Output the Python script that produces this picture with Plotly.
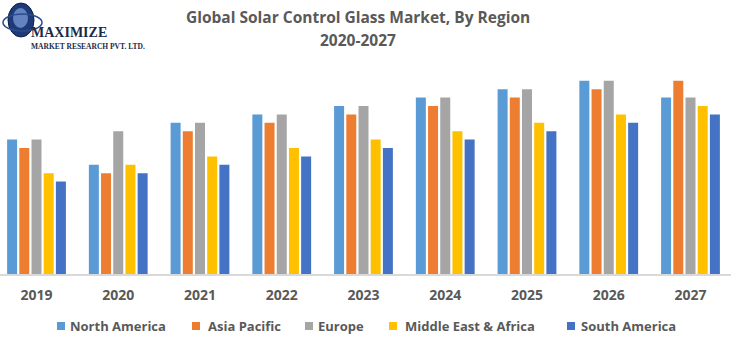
import plotly.graph_objects as go

years = ["2019", "2020", "2021", "2022", "2023", "2024", "2025", "2026", "2027"]
north_america = [1.6, 1.3, 1.8, 1.9, 2.0, 2.1, 2.2, 2.3, 2.1]
asia_pacific = [1.5, 1.2, 1.7, 1.8, 1.9, 2.0, 2.1, 2.2, 2.3]
europe = [1.6, 1.7, 1.8, 1.9, 2.0, 2.1, 2.2, 2.3, 2.1]
middle_east_africa = [1.2, 1.3, 1.4, 1.5, 1.6, 1.7, 1.8, 1.9, 2.0]
south_america = [1.1, 1.2, 1.3, 1.4, 1.5, 1.6, 1.7, 1.8, 1.9]

regions = ["North America", "Asia Pacific", "Europe", "Middle East & Africa", "South America"]
colors = ["#5B9BD5", "#ED7D31", "#A5A5A5", "#FFC000", "#4472C4"]
values = [north_america, asia_pacific, europe, middle_east_africa, south_america]

TEXT = "#595959"
FONT = "Open Sans"

# plot area geometry in pixels (used to place decorations in paper coords)
W, H = 738, 337
ML, MR, MT, MB = 0, 7, 70, 63
PW, PH = W - ML - MR, H - MT - MB


def px(x):
    return (x - ML) / PW


def py(y):
    return (H - MB - y) / PH


fig = go.Figure()
for name, vals, color in zip(regions, values, colors):
    fig.add_trace(go.Bar(x=years, y=vals, name=name, marker_color=color,
                         marker_line_width=0, showlegend=False))

fig.update_layout(
    width=W, height=H,
    margin=dict(l=ML, r=MR, t=MT, b=MB),
    paper_bgcolor="white", plot_bgcolor="white",
    barmode="group", bargap=0.254, bargroupgap=0.18,
    font=dict(family=FONT, color=TEXT),
    xaxis=dict(type="category", range=[-0.4465, 8.4955], showline=True,
               linecolor="#D9D9D9", linewidth=1.5, showgrid=False,
               ticks="outside", ticklen=7, tickcolor="rgba(0,0,0,0)",
               tickfont=dict(size=14, color=TEXT, family=FONT, weight="bold")),
    yaxis=dict(range=[0, 2.4286], visible=False, showgrid=False),
)

# Title (two lines)
fig.add_annotation(text="Global Solar Control Glass Market, By Region",
                   xref="paper", yref="paper", x=px(357.5), y=py(17), yanchor="middle",
                   showarrow=False, borderpad=0,
                   font=dict(size=15.5, color=TEXT, family=FONT, weight="bold"))
fig.add_annotation(text="2020-2027",
                   xref="paper", yref="paper", x=px(357.5), y=py(40), yanchor="middle",
                   showarrow=False, borderpad=0,
                   font=dict(size=15.5, color=TEXT, family=FONT, weight="bold"))

# Legend row: colour squares with labels
legend_sym_x = [57, 192, 305, 389, 567]
legend_txt_x = [69, 207, 317, 404, 580]
for name, color, sx, tx in zip(regions, colors, legend_sym_x, legend_txt_x):
    fig.add_shape(type="rect", xref="paper", yref="paper",
                  x0=px(sx), x1=px(sx + 8), y0=py(330), y1=py(322),
                  fillcolor=color, line=dict(width=0))
    fig.add_annotation(text=name, xref="paper", yref="paper",
                       x=px(tx), y=py(326), xanchor="left", yanchor="middle",
                       showarrow=False, borderpad=0,
                       font=dict(size=13, color=TEXT, family=FONT, weight="bold"))

# Company mark: globe with orbit ring and name
fig.add_shape(type="circle", xref="paper", yref="paper",
              x0=px(8), x1=px(34), y0=py(37), y1=py(3),
              fillcolor="#1F3A78", line=dict(color="#0E1F4A", width=1))
fig.add_shape(type="circle", xref="paper", yref="paper",
              x0=px(13), x1=px(28), y0=py(28), y1=py(8),
              fillcolor="#7FA3DD", line=dict(width=0), opacity=0.7)
fig.add_shape(type="circle", xref="paper", yref="paper",
              x0=px(3), x1=px(42), y0=py(31), y1=py(14),
              fillcolor="rgba(0,0,0,0)", line=dict(color="#2B4C8C", width=1.5))
fig.add_annotation(text="<b>MAXIMIZE</b>", xref="paper", yref="paper",
                   x=px(30), y=py(33), xanchor="left", yanchor="middle",
                   showarrow=False, borderpad=0,
                   font=dict(size=14, color="#1B2A4A", family="Liberation Serif"))
fig.add_annotation(text="<b>MARKET RESEARCH PVT. LTD.</b>", xref="paper", yref="paper",
                   x=px(30), y=py(46.5), xanchor="left", yanchor="middle",
                   showarrow=False, borderpad=0,
                   font=dict(size=7.5, color="#1B2A4A", family="Liberation Serif"))

fig.write_html("out.html")
